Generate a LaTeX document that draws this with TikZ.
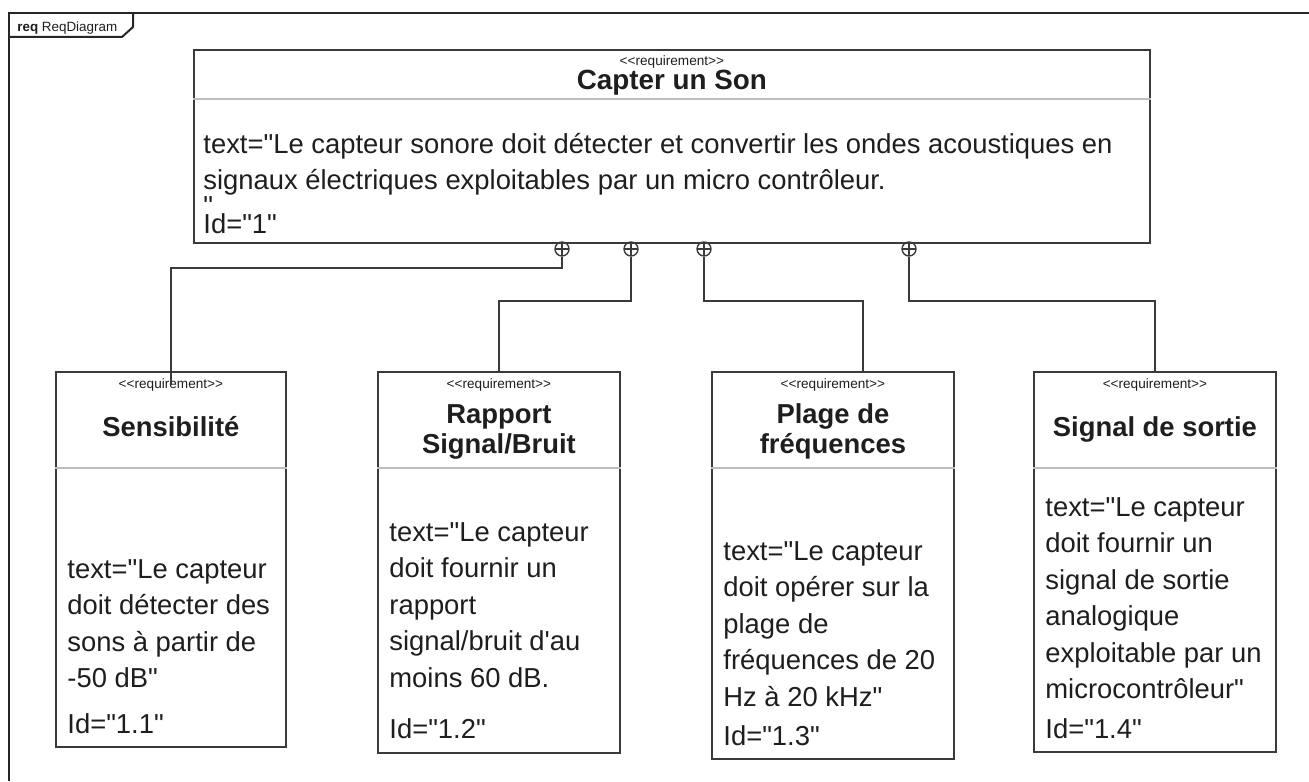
\documentclass[tikz,border=0pt]{standalone}
\usepackage{fontspec}
\setmainfont{Liberation Sans}[Ligatures=TeXOff]
\usetikzlibrary{positioning, calc}
\definecolor{lineg}{HTML}{3A3A3A}
\definecolor{sepg}{HTML}{BDBDBD}
\definecolor{txtg}{HTML}{1E1E1E}

\begin{document}
\begin{tikzpicture}[
			x=0.5pt, y=-0.5pt,
			reqbox/.style={rectangle, draw=lineg, line width=0.9pt, inner sep=0pt, anchor=north west},
			stereo/.style={anchor=base, inner sep=0pt, text=txtg, font=\fontsize{6.8}{7}\selectfont},
			title/.style={anchor=north, inner sep=0pt, align=center, text=txtg, font=\fontsize{13.7}{15}\selectfont\bfseries},
			body/.style={anchor=north west, inner sep=0pt, align=left, text=txtg, font=\fontsize{13.7}{18.25}\selectfont},
			ident/.style={anchor=base west, inner sep=0pt, text=txtg, font=\fontsize{13.7}{18.25}\selectfont},
			sep/.style={draw=sepg, line width=0.7pt},
			contain/.style={circle, draw=lineg, line width=0.7pt, minimum size=7pt, inner sep=0pt,
				path picture={\draw[lineg, line width=0.7pt] (path picture bounding box.north) -- (path picture bounding box.south)
					(path picture bounding box.west) -- (path picture bounding box.east);}},
			link/.style={draw=lineg, line width=0.75pt}
			]
			\useasboundingbox (0,0) rectangle (1309,781);
			
			% frame and tab
			\draw[black!85, line width=1pt] (9,781) -- (9,13) -- (1309,13);
			\draw[black!85, line width=1pt] (9,37) -- (122,37) -- (133,27) -- (133,13);
			\node[anchor=base west, inner sep=0pt, text=txtg, font=\fontsize{6.7}{7}\selectfont] (tab) at (17,32) {\textbf{req} ReqDiagram};
			
			% main requirement
			\node[reqbox, minimum width=478pt, minimum height=96.5pt] (capter) at (193,49) {};
			\draw[sep] (capter.west |- 0,99) -- (capter.east |- 0,99);
			\node[stereo] (st0) at (capter.north |- 0,66) {<<requirement>>};
			\node[anchor=base, inner sep=0pt, text=txtg, font=\fontsize{13.9}{16}\selectfont\bfseries] (t0) at (capter.north |- 0,90) {Capter un Son};
			\node[body] (b0) at (203,127.5) {\strut text="Le capteur sonore doit détecter et convertir les ondes acoustiques en\\signaux électriques exploitables par un micro contrôleur.\\[-5.5pt]"};
			\node[ident] (id0) at (203,233) {Id="1"};
			
			% sub requirements
			\node[reqbox, minimum width=115pt, minimum height=187.5pt] (sens) at (55,371) {};
			\node[reqbox, minimum width=121pt, minimum height=190.5pt] (rsb) at (377,371) {};
			\node[reqbox, minimum width=121pt, minimum height=193.5pt] (plage) at (711,371) {};
			\node[reqbox, minimum width=121pt, minimum height=190pt] (sortie) at (1033,371) {};
			
			\draw[sep] (sens.west |- 0,468) -- (sens.east |- 0,468);
			\draw[sep] (rsb.west |- 0,468) -- (rsb.east |- 0,468);
			\draw[sep] (plage.west |- 0,468) -- (plage.east |- 0,468);
			\draw[sep] (sortie.west |- 0,468) -- (sortie.east |- 0,468);
			
			\node[stereo] (st1) at (sens.north |- 0,388) {<<requirement>>};
			\node[stereo] (st2) at (rsb.north |- 0,388) {<<requirement>>};
			\node[stereo] (st3) at (plage.north |- 0,388) {<<requirement>>};
			\node[stereo] (st4) at (sortie.north |- 0,388) {<<requirement>>};
			
			\node[title] (t1) at (sens.north |- 0,415) {\strut Sensibilité};
			\node[title] (t2) at (rsb.north |- 0,402) {\strut Rapport\\Signal/Bruit};
			\node[title] (t3) at (plage.north |- 0,402) {\strut Plage de\\fréquences};
			\node[title] (t4) at (sortie.north |- 0,415) {\strut Signal de sortie};
			
			\node[body] (b1) at (67,552.5) {\strut text="Le capteur\\doit détecter des\\sons à partir de\\-50 dB"};
			\node[body] (b2) at (389,515.5) {\strut text="Le capteur\\doit fournir un\\rapport\\signal/bruit d'au\\moins 60 dB.};
			\node[body] (b3) at (723,534.5) {\strut text="Le capteur\\doit opérer sur la\\plage de\\fréquences de 20\\Hz à 20 kHz"};
			\node[body] (b4) at (1045,490.5) {\strut text="Le capteur\\doit fournir un\\signal de sortie\\analogique\\exploitable par un\\microcontrôleur"};
			
			\node[ident] (id1) at (67,733) {Id="1.1"};
			\node[ident] (id2) at (389,738) {Id="1.2"};
			\node[ident] (id3) at (723,745) {Id="1.3"};
			\node[ident] (id4) at (1045,738) {Id="1.4"};
			
			% containment
			\node[contain] (k1) at (562,249) {};
			\node[contain] (k2) at (631,249) {};
			\node[contain] (k3) at (704,249) {};
			\node[contain] (k4) at (909,249) {};
			
			\draw[link] (k1.south) -- (k1.south |- 0,268) -| ($(sens.north)+(0,14)$);
			\draw[link] (k2.south) -- (k2.south |- 0,301) -| (rsb.north);
			\draw[link] (k3.south) -- (k3.south |- 0,301) -| ($(plage.north)+(30,0)$);
			\draw[link] (k4.south) -- (k4.south |- 0,301) -| (sortie.north);
		\end{tikzpicture}
\end{document}
